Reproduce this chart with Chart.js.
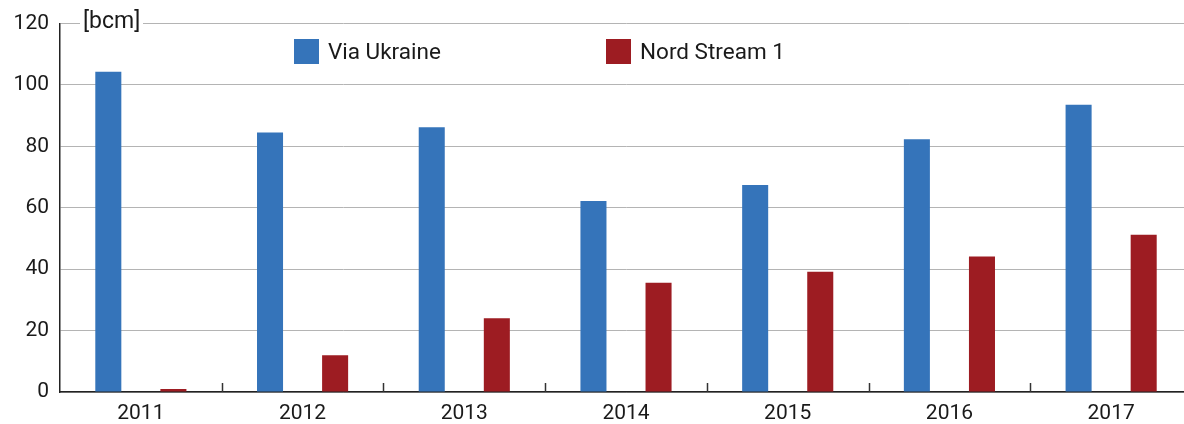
<!DOCTYPE html>
<html><head><meta charset="utf-8">
<script src="https://cdn.jsdelivr.net/npm/chart.js@4"></script>
<style>
html,body{margin:0;padding:0;background:#fff;overflow:hidden;width:1184px;height:424px;}
#wrap{position:relative;width:1192px;height:424px;}
canvas{display:block;}
#unit{position:absolute;left:80px;top:8px;background:#fff;padding:0 3px;font:23px Roboto, sans-serif;color:#1a1a1a;line-height:26px;}
#legend{position:absolute;top:38px;left:0;font:22.5px Roboto, sans-serif;color:#1a1a1a;}
.item{position:absolute;white-space:nowrap;display:flex;align-items:center;height:26px;}
.sw{display:inline-block;width:25px;height:25px;margin-right:9px;}
</style></head>
<body>
<div id="wrap"><canvas id="c" width="1192" height="424"></canvas>
<div id="unit">[bcm]</div><div id="legend"></div></div>
<script>
const categories = ['2011','2012','2013','2014','2015','2016','2017'];
const viaUkraine = [104.3, 84.5, 86.2, 62.2, 67.4, 82.3, 93.6];
const nordStream = [1.0, 12.0, 24.0, 35.6, 39.2, 44.1, 51.2];
const yTicks = [0, 20, 40, 60, 80, 100, 120];
const seriesNames = ['Via Ukraine', 'Nord Stream 1'];
const seriesColors = ['#3574BA', '#9D1C22'];

const catTicks = {
  id: 'catTicks',
  afterDraw(chart) {
    const x = chart.scales.x, ctx = chart.ctx, b = chart.chartArea.bottom;
    ctx.save();
    ctx.strokeStyle = '#333'; ctx.lineWidth = 1.5;
    for (let i = 1; i < categories.length; i++) {
      const px = Math.round((x.getPixelForValue(i - 1) + x.getPixelForValue(i)) / 2) + 0.5;
      ctx.beginPath(); ctx.moveTo(px, b); ctx.lineTo(px, b - 9); ctx.stroke();
    }
    ctx.restore();
  }
};

new Chart(document.getElementById('c'), {
  type: 'bar',
  data: {
    labels: categories,
    datasets: [
      { label: seriesNames[0], data: viaUkraine, backgroundColor: seriesColors[0] },
      { label: seriesNames[1], data: nordStream, backgroundColor: seriesColors[1] }
    ]
  },
  options: {
    responsive: false, animation: false,
    layout: { padding: { top: 22, left: 0, right: 0, bottom: 0 } },
    datasets: { bar: { categoryPercentage: 0.805, barPercentage: 0.4 } },
    plugins: { legend: { display: false }, tooltip: { enabled: false } },
    scales: {
      x: {
        grid: { display: false, drawTicks: false },
        border: { display: true, color: '#222', width: 1.5 },
        ticks: { color: '#1a1a1a', font: { family: 'Roboto', size: 21 }, padding: 9, maxRotation: 0 },
        afterFit(s) { s.height = 32; }
      },
      y: {
        min: 0, max: 120,
        afterBuildTicks(s) { s.ticks = yTicks.map(v => ({ value: v })); },
        grid: { color: '#b4b4b4', lineWidth: 1, drawTicks: false },
        border: { display: true, color: '#222', width: 1.5 },
        ticks: { color: '#1a1a1a', font: { family: 'Roboto', size: 21 }, padding: 11 },
        afterFit(s) { s.width = 60; }
      }
    }
  },
  plugins: [catTicks]
});

const lg = document.getElementById('legend');
const lefts = [294, 606];
seriesNames.forEach((n, i) => {
  const d = document.createElement('div');
  d.className = 'item'; d.style.left = lefts[i] + 'px';
  d.innerHTML = '<span class="sw" style="background:' + seriesColors[i] + '"></span>' + n;
  lg.appendChild(d);
});
</script>
</body></html>
